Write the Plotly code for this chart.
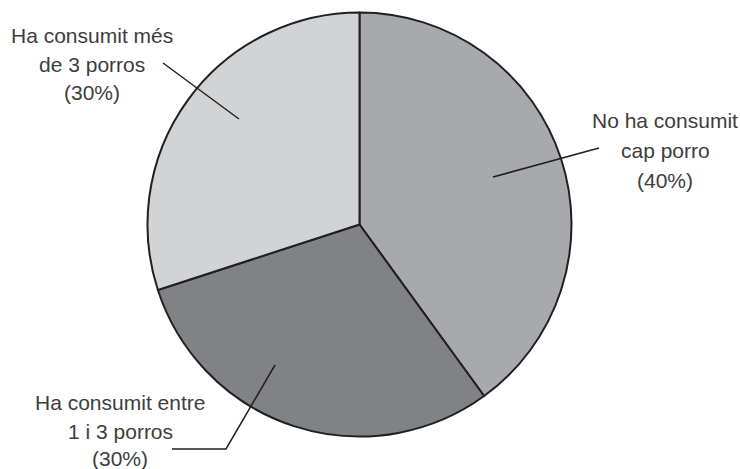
import plotly.graph_objects as go

labels = ["No ha consumit cap porro", "Ha consumit entre 1 i 3 porros", "Ha consumit més de 3 porros"]
values = [40, 30, 30]
colors = ["#a7a9ac", "#808285", "#d1d3d4"]

label_lines = [
    ["No ha consumit", "cap porro", "(40%)"],
    ["Ha consumit entre", "1 i 3 porros", "(30%)"],
    ["Ha consumit més", "de 3 porros", "(30%)"],
]

W, H = 740, 469

def px(x):
    return x / W

def py(y):
    return 1 - y / H

cx, cy, r = 359.5, 224.5, 212

fig = go.Figure(go.Pie(
    labels=labels, values=values, sort=False, direction="clockwise", rotation=0,
    marker=dict(colors=colors, line=dict(color="#231f20", width=2)),
    textinfo="none", hoverinfo="label+percent", showlegend=False,
    domain=dict(x=[px(cx - r), px(cx + r)], y=[py(cy + r), py(cy - r)]),
))

# label positions (pixel centres) and line spacing
label_pos = [(665, [120, 150, 180]), (120, [402, 431, 458]), (92, [35, 64, 92])]
for lines, (x, ys) in zip(label_lines, label_pos):
    for t, y in zip(lines, ys):
        fig.add_annotation(x=px(x), y=py(y), xref="paper", yref="paper", text=t,
                           showarrow=False, xanchor="center", yanchor="middle",
                           font=dict(family="Liberation Sans, Arial, sans-serif", size=21, color="#3d3d3d"))

leaders = [
    [(599, 148), (493, 177)],
    [(172, 449), (226, 449), (275, 365)],
    [(163, 63), (239, 119)],
]
for pts in leaders:
    path = "M " + " L ".join(f"{px(x)},{py(y)}" for x, y in pts)
    fig.add_shape(type="path", path=path, xref="paper", yref="paper",
                  line=dict(color="#231f20", width=1.5))

fig.update_layout(width=W, height=H, margin=dict(l=0, r=0, t=0, b=0),
                  paper_bgcolor="white", plot_bgcolor="white")
fig.write_html("out.html")
